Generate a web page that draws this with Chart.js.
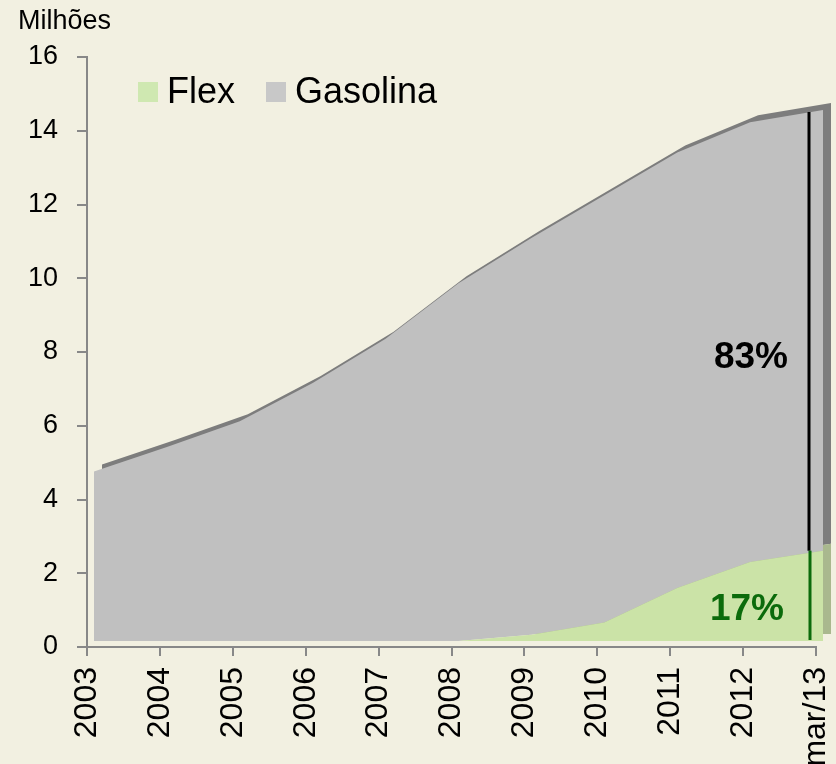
<!DOCTYPE html>
<html>
<head>
<meta charset="utf-8">
<script src="https://cdn.jsdelivr.net/npm/chart.js@4.4.0/dist/chart.umd.min.js"></script>
<style>
  html, body { margin: 0; padding: 0; background: #f2f0e1; }
  #wrap { width: 836px; height: 764px; position: relative; }
</style>
</head>
<body>
<div id="wrap"><canvas id="chart" width="836" height="764"></canvas></div>
<script>
// frota em milhões de veículos
const anos = ['2003', '2004', '2005', '2006', '2007', '2008', '2009', '2010', '2011', '2012', 'mar/13'];
const flex = [0, 0, 0, 0, 0, 0, 0.17, 0.5, 1.44, 2.14, 2.45];
const gasolina = [4.6, 5.26, 5.96, 7.0, 8.2, 9.7, 10.76, 11.59, 11.81, 11.93, 11.95];
const yMax = 16;
const yStep = 2;

const FONT = 'Liberation Sans, Arial, sans-serif';
Chart.defaults.font.family = FONT;

// fake 3D: back faces shifted up/right, front face a bit less
const FRONT = { dx: 7, dy: -6 };
const BACK = { dx: 15, dy: -13 };

const depth3d = {
  id: 'depth3d',
  beforeDatasetsDraw(chart) {
    chart.ctx.save();
    chart.ctx.translate(BACK.dx, BACK.dy);
  },
  afterDatasetDraw(chart, args) {
    // datasets are drawn 3,2,1,0 -> switch to front offset after the back ones
    if (args.index === 2) {
      chart.ctx.restore();
      chart.ctx.save();
      chart.ctx.translate(FRONT.dx, FRONT.dy);
    }
  },
  afterDatasetsDraw(chart) {
    const ctx = chart.ctx;
    ctx.restore();
    const xs = chart.scales.x, ys = chart.scales.y;
    const i = anos.length - 1;
    const total = flex[i] + gasolina[i];
    const lx = xs.getPixelForValue(i) + FRONT.dx - 14;
    const yTop = ys.getPixelForValue(total) + FRONT.dy + 2;
    const ySplit = ys.getPixelForValue(flex[i]) + FRONT.dy;
    const yBase = ys.getPixelForValue(0) + FRONT.dy - 1;

    ctx.save();
    ctx.lineWidth = 3;
    ctx.strokeStyle = '#000000';
    ctx.beginPath(); ctx.moveTo(lx, yTop); ctx.lineTo(lx, ySplit); ctx.stroke();
    ctx.strokeStyle = '#0b6b0b';
    ctx.beginPath(); ctx.moveTo(lx + 1, ySplit); ctx.lineTo(lx + 1, yBase); ctx.stroke();

    const pFlex = Math.round(flex[i] / total * 100);
    ctx.font = 'bold 37px ' + FONT;
    ctx.textAlign = 'right';
    ctx.textBaseline = 'middle';
    ctx.fillStyle = '#000000';
    ctx.fillText((100 - pFlex) + '%', lx - 21, ys.getPixelForValue(7.85));
    ctx.fillStyle = '#0b6b0b';
    ctx.fillText(pFlex + '%', lx - 25, ys.getPixelForValue(1.0));
    ctx.restore();
  },
  afterDraw(chart) {
    const ctx = chart.ctx;
    ctx.save();
    ctx.fillStyle = '#000000';
    ctx.textBaseline = 'alphabetic';
    ctx.textAlign = 'left';
    ctx.font = '27px ' + FONT;
    ctx.fillText('Milhões', 18, 29);

    // legenda
    ctx.font = '36px ' + FONT;
    const items = [
      { ds: chart.data.datasets[0], x: 138 },
      { ds: chart.data.datasets[1], x: 266 }
    ];
    items.forEach(it => {
      ctx.fillStyle = it.ds.legendColor;
      ctx.fillRect(it.x, 82, 20, 20);
      ctx.fillStyle = '#000000';
      ctx.fillText(it.ds.label, it.x + 29, 103);
    });
    ctx.restore();
  }
};

const ctx = document.getElementById('chart').getContext('2d');
new Chart(ctx, {
  type: 'line',
  data: {
    labels: anos,
    datasets: [
      { label: 'Flex', data: flex, stack: 'front', fill: 'origin',
        backgroundColor: '#cbe3a7', legendColor: '#cfe8b1', borderWidth: 0, pointRadius: 0, tension: 0 },
      { label: 'Gasolina', data: gasolina, stack: 'front', fill: '-1',
        backgroundColor: '#c0c0c0', legendColor: '#c8c8c8', borderWidth: 0, pointRadius: 0, tension: 0 },
      { label: 'Flex3d', data: flex, stack: 'back', fill: 'origin',
        backgroundColor: '#a9b88e', borderWidth: 0, pointRadius: 0, tension: 0 },
      { label: 'Gasolina3d', data: gasolina, stack: 'back', fill: '-1',
        backgroundColor: '#7d7d7d', borderWidth: 0, pointRadius: 0, tension: 0 }
    ]
  },
  options: {
    responsive: false,
    animation: false,
    layout: { padding: { top: 57, right: 20, left: 0, bottom: 0 } },
    plugins: { legend: { display: false }, tooltip: { enabled: false } },
    scales: {
      x: {
        offset: false,
        grid: { drawOnChartArea: false, tickLength: 9, color: '#888888', lineWidth: 2 },
        border: { color: '#888888', width: 2 },
        ticks: { autoSkip: false, minRotation: 90, maxRotation: 90, padding: 11,
                 color: '#000000', font: { size: 32 } },
        afterFit(s) { s.height = 117; s.paddingLeft = 0; s.paddingRight = 0; }
      },
      y: {
        stacked: true,
        min: 0,
        max: yMax,
        grid: { drawOnChartArea: false, tickLength: 10, color: '#888888', lineWidth: 2 },
        border: { color: '#888888', width: 2 },
        ticks: { stepSize: yStep, padding: 19, color: '#000000', font: { size: 27 } },
        afterFit(s) { s.width = 87; }
      }
    }
  },
  plugins: [depth3d]
});
</script>
</body>
</html>
